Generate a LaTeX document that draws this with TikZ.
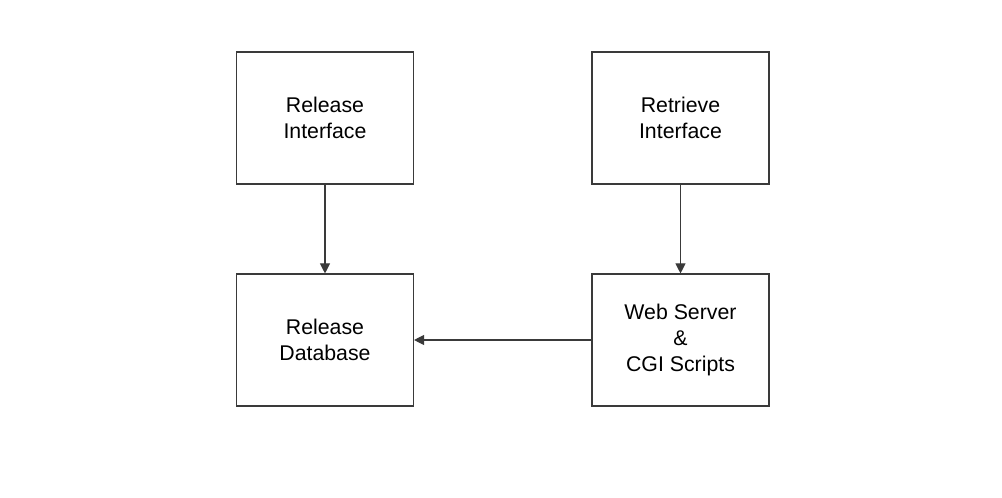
\documentclass[tikz,border=0pt]{standalone}
\usepackage{fontspec}
\setmainfont{Liberation Sans}
\usetikzlibrary{arrows.meta}
\definecolor{linegray}{HTML}{3A3A3A}
\begin{document}
\begin{tikzpicture}[x=1pt,y=1pt,
  blockbox/.style={draw=linegray, line width=1.1pt, minimum width=177pt, minimum height=132pt, align=center, inner sep=0pt,
    font=\fontsize{21.3pt}{26pt}\selectfont},
  conn/.style={draw=linegray, line width=1.1pt, -{Triangle[length=10pt,width=10pt]}}]
\useasboundingbox (0,0) rectangle (1002,498);
\fill[white] (0,0) rectangle (1002,498);
\node[blockbox] (relint) at (325,380) {Release\\Interface};
\node[blockbox] (retint) at (680.5,380) {Retrieve\\Interface};
\node[blockbox] (reldb) at (325,158) {Release\\Database};
\node[blockbox] (web) at (680.5,158) {Web Server\\\&\\CGI Scripts};
\draw[conn] (relint) -- (reldb);
\draw[conn] (retint) -- (web);
\draw[conn] (web) -- (reldb);
\end{tikzpicture}
\end{document}
